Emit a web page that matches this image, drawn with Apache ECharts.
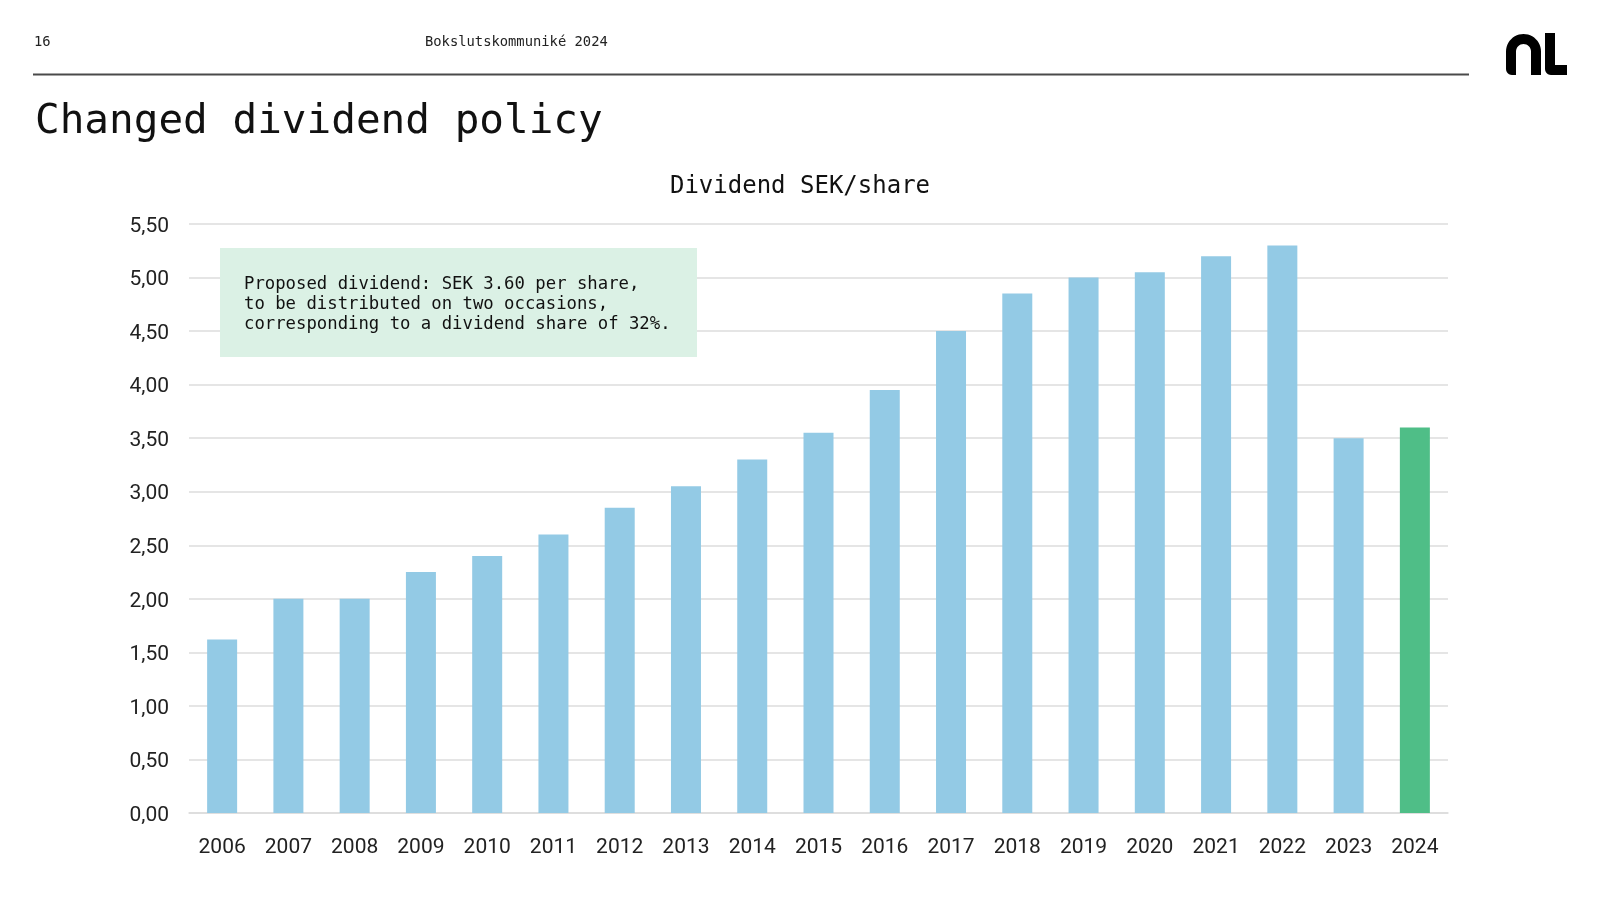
<!DOCTYPE html>
<html>
<head>
<meta charset="utf-8">
<script src="https://cdn.jsdelivr.net/npm/echarts@6/dist/echarts.min.js"></script>
<style>
  html, body { margin: 0; padding: 0; background: #ffffff; }
  #chart { width: 1600px; height: 900px; }
</style>
</head>
<body>
<div id="chart"></div>
<script>
// ---- data ----
const years = ['2006','2007','2008','2009','2010','2011','2012','2013','2014','2015','2016','2017','2018','2019','2020','2021','2022','2023','2024'];
const dividends = [1.62, 2.00, 2.00, 2.25, 2.40, 2.60, 2.85, 3.05, 3.30, 3.55, 3.95, 4.50, 4.85, 5.00, 5.05, 5.20, 5.30, 3.50, 3.60];
const highlightYears = ['2024'];
const pageNumber = '16';
const headerText = 'Bokslutskommuniké 2024';
const slideTitle = 'Changed dividend policy';
const chartTitle = 'Dividend SEK/share';
const noteLines = [
  'Proposed dividend: SEK 3.60 per share,',
  'to be distributed on two occasions,',
  'corresponding to a dividend share of 32%.'
];

const MONO = '"DejaVu Sans Mono", "Liberation Mono", monospace';
const SANS = 'Roboto, "Noto Sans", sans-serif';
const BLUE = '#93CAE5';
const GREEN = '#4FBE87';

const chart = echarts.init(document.getElementById('chart'), null, { renderer: 'canvas' });

const barData = years.map((y, i) => ({
  value: dividends[i],
  itemStyle: { color: highlightYears.includes(y) ? GREEN : BLUE }
}));

// logo helper: arc points
function arcPts(cx, cy, r, a0, a1, n) {
  const pts = [];
  for (let i = 0; i <= n; i++) {
    const a = a0 + (a1 - a0) * i / n;
    pts.push([cx + r * Math.cos(a), cy + r * Math.sin(a)]);
  }
  return pts;
}
// glyph "a": arch with two legs
const aPts = [].concat(
  [[1506, 69]],
  arcPts(1523.5, 51.5, 17.5, Math.PI, 2 * Math.PI, 24),
  [[1541, 75], [1531, 75]],
  arcPts(1523.5, 51.5, 7.5, 2 * Math.PI, Math.PI, 16),
  [[1516, 75], [1512, 75]],
  arcPts(1512, 69, 6, Math.PI / 2, Math.PI, 6)
);
const lPts = [].concat(
  [[1545, 33], [1555, 33], [1555, 65], [1567, 65], [1567, 75], [1551, 75]],
  arcPts(1551, 69, 6, Math.PI / 2, Math.PI, 6)
);

const noteGraphics = noteLines.map((t, i) => ({
  type: 'text',
  x: 244,
  y: 285 + i * 19.9,
  z: 101,
  style: { text: t, font: '17.3px ' + MONO, fill: '#111111', textVerticalAlign: 'middle' }
}));

chart.setOption({
  animation: false,
  backgroundColor: '#ffffff',
  title: {
    text: chartTitle,
    left: 'center',
    top: 170,
    textStyle: { fontFamily: MONO, fontSize: 24, fontWeight: 'normal', color: '#111111' }
  },
  grid: { left: 189, right: 152, top: 224, bottom: 87, containLabel: false },
  xAxis: {
    type: 'category',
    data: years,
    axisTick: { show: false },
    axisLine: { lineStyle: { color: '#dcdcdc', width: 1.5 } },
    axisLabel: { fontFamily: SANS, fontSize: 21, color: '#222222', margin: 24 }
  },
  yAxis: {
    type: 'value',
    min: 0,
    max: 5.5,
    interval: 0.5,
    axisLine: { show: false },
    axisTick: { show: false },
    splitLine: { lineStyle: { color: '#dcdcdc', width: 1.5 } },
    axisLabel: {
      fontFamily: SANS, fontSize: 21, color: '#222222', margin: 20,
      formatter: v => '{v|' + v.toFixed(2).replace('.', ',') + '}',
      rich: { v: { fontFamily: SANS, fontSize: 21, color: '#222222', padding: [5, 0, 0, 0] } }
    }
  },
  series: [{
    type: 'bar',
    data: barData,
    barWidth: 30
  }],
  graphic: [
    { type: 'text', x: 34, y: 42.5, style: { text: pageNumber, font: '13.8px ' + MONO, fill: '#222222', textVerticalAlign: 'middle' } },
    { type: 'text', x: 425, y: 42.5, style: { text: headerText, font: '13.8px ' + MONO, fill: '#222222', textVerticalAlign: 'middle' } },
    { type: 'line', shape: { x1: 33, y1: 74.5, x2: 1469, y2: 74.5 }, style: { stroke: '#4a4a4a', lineWidth: 2 } },
    { type: 'text', x: 35, y: 122, style: { text: slideTitle, font: '41px ' + MONO, fill: '#111111', textVerticalAlign: 'middle' } },
    { type: 'polygon', shape: { points: aPts }, style: { fill: '#000000' } },
    { type: 'polygon', shape: { points: lPts }, style: { fill: '#000000' } },
    { type: 'rect', shape: { x: 220, y: 248, width: 477, height: 109 }, style: { fill: '#DBF1E5' }, z: 100 },
    ...noteGraphics
  ]
});
</script>
</body>
</html>
